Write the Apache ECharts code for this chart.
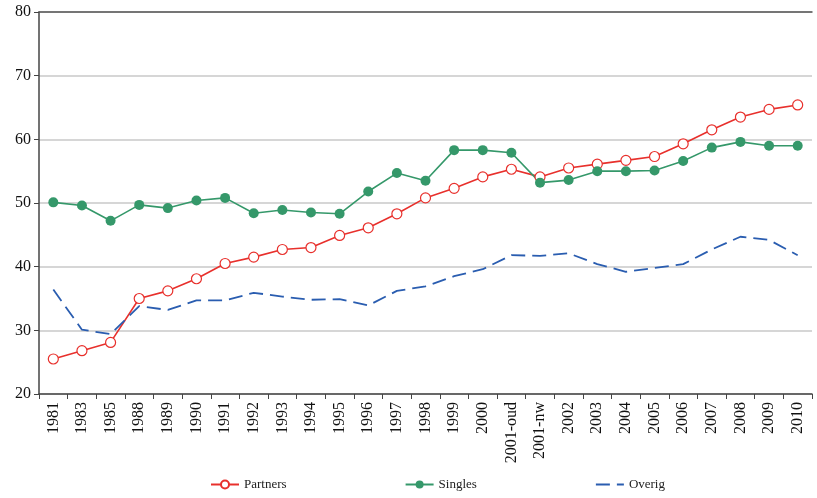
<!DOCTYPE html>
<html><head><meta charset="utf-8">
<script src="https://cdn.jsdelivr.net/npm/echarts@6/dist/echarts.min.js"></script>
<style>html,body{margin:0;padding:0;background:#fff}#c{width:817px;height:498px}</style>
</head><body><div id="c"></div>
<script>
const categories = ['1981','1983','1985','1988','1989','1990','1991','1992','1993','1994','1995','1996','1997','1998','1999','2000','2001-oud','2001-nw','2002','2003','2004','2005','2006','2007','2008','2009','2010'];
const partners = [25.5,26.8,28.1,35.0,36.2,38.1,40.5,41.5,42.7,43.0,44.9,46.1,48.3,50.8,52.3,54.1,55.3,54.1,55.5,56.1,56.7,57.3,59.3,61.5,63.5,64.7,65.4];
const singles = [50.1,49.6,47.2,49.7,49.2,50.4,50.8,48.4,48.9,48.5,48.3,51.8,54.7,53.5,58.3,58.3,57.9,53.2,53.6,55.0,55.0,55.1,56.6,58.7,59.6,59.0,59.0];
const overig = [36.4,30.1,29.4,33.8,33.2,34.7,34.7,35.9,35.3,34.8,34.9,33.9,36.2,36.9,38.5,39.6,41.8,41.7,42.1,40.4,39.2,39.8,40.4,42.7,44.7,44.2,41.8];
const yTicks = {min:20, max:80, interval:10};

const font = 'Liberation Serif, Times New Roman, serif';
const chart = echarts.init(document.getElementById('c'));
chart.setOption({
  animation:false,
  backgroundColor:'#fff',
  grid:{left:39,right:5,top:12,bottom:104},
  legend:{
    bottom:2,left:205,itemGap:118,itemWidth:28,itemHeight:10,
    textStyle:{fontFamily:font,fontSize:13,color:'#222'},
    data:['Partners','Singles',{name:'Overig',itemStyle:{opacity:0}}]
  },
  xAxis:[{
    type:'category',data:categories,boundaryGap:true,
    axisLine:{lineStyle:{color:'#444',width:1.5}},
    axisTick:{show:true,interval:0,length:5,lineStyle:{color:'#444'}},
    axisLabel:{interval:0,rotate:90,fontFamily:font,fontSize:16,color:'#111',margin:8}
  },{
    type:'category',data:categories,position:'top',
    axisLine:{show:true,lineStyle:{color:'#555',width:1.5}},
    axisTick:{show:false},axisLabel:{show:false}
  }],
  yAxis:{
    type:'value',min:yTicks.min,max:yTicks.max,interval:yTicks.interval,
    axisLine:{show:true,lineStyle:{color:'#444',width:1.5}},
    axisTick:{show:true,length:5,lineStyle:{color:'#444'}},
    axisLabel:{fontFamily:font,fontSize:16,color:'#111',margin:8},
    splitLine:{lineStyle:{color:'#c8c8c8',width:1.5}}
  },
  series:[
    {name:'Partners',type:'line',data:partners,symbol:'circle',symbolSize:10,
     itemStyle:{color:'#fff',borderColor:'#e8302c',borderWidth:1.2},
     lineStyle:{color:'#e8302c',width:1.6},color:'#e8302c'},
    {name:'Singles',type:'line',data:singles,symbol:'circle',symbolSize:10,
     itemStyle:{color:'#35986a'},lineStyle:{color:'#35986a',width:1.6},color:'#35986a'},
    {name:'Overig',type:'line',data:overig,symbol:'none',
     lineStyle:{color:'#2a5db0',width:1.8,type:[14,7]},color:'#2a5db0'}
  ]
});
</script></body></html>
